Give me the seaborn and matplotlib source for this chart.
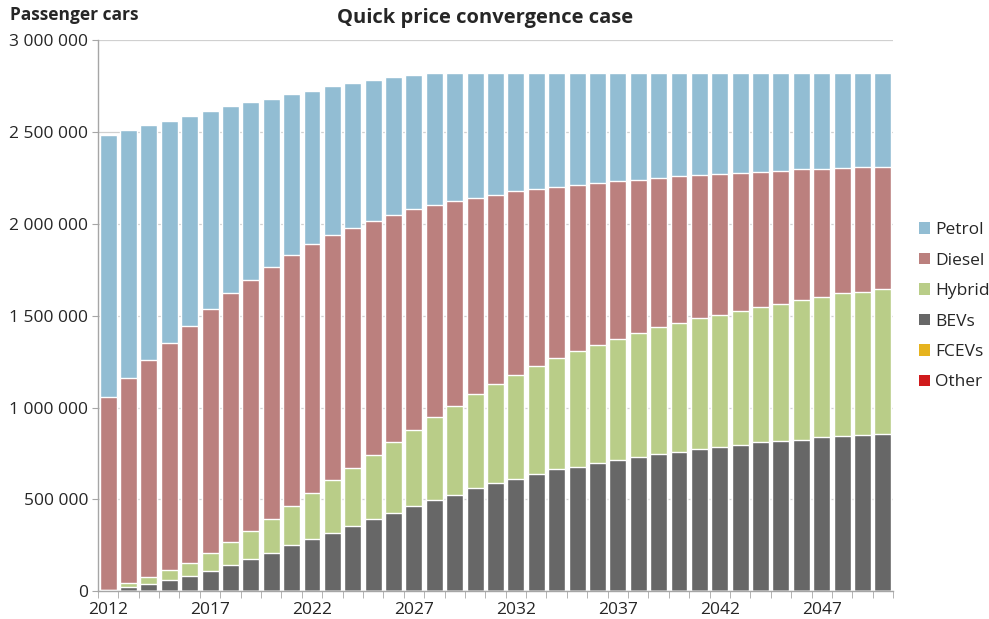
import matplotlib.pyplot as plt
import matplotlib.ticker as ticker
from matplotlib.patches import Patch
import numpy as np
import pandas as pd
import seaborn as sns

# values (passenger cars per year)
years = list(range(2012, 2051))
petrol = [1431000, 1350000, 1279000, 1211000, 1147000, 1080000, 1018000, 968000, 918000, 876000,
          838000, 813000, 788000, 770000, 749000, 731000, 715000, 701000, 681000, 666000,
          646000, 635000, 623000, 614000, 601000, 592000, 583000, 574000, 565000, 559000,
          554000, 547000, 539000, 534000, 526000, 523000, 519000, 516000, 514000]
diesel = [1048000, 1118000, 1180000, 1237000, 1289000, 1327000, 1357000, 1368000, 1372000, 1367000,
          1356000, 1333000, 1307000, 1276000, 1240000, 1202000, 1159000, 1114000, 1072000, 1031000,
          1000000, 964000, 934000, 903000, 880000, 858000, 835000, 814000, 799000, 780000,
          764000, 751000, 737000, 724000, 710000, 699000, 684000, 678000, 662000]
hybrid = [2000, 22000, 38000, 53000, 72000, 98000, 122000, 149000, 184000, 214000,
          249000, 286000, 316000, 346000, 385000, 417000, 451000, 483000, 510000, 539000,
          567000, 588000, 604000, 630000, 644000, 661000, 675000, 690000, 700000, 712000,
          721000, 728000, 738000, 751000, 764000, 765000, 777000, 781000, 791000]
bevs = [5000, 20000, 40000, 60000, 82000, 110000, 143000, 176000, 208000, 249000,
        283000, 318000, 355000, 394000, 426000, 463000, 495000, 526000, 561000, 588000,
        611000, 637000, 663000, 677000, 699000, 713000, 731000, 746000, 760000, 773000,
        785000, 798000, 810000, 815000, 824000, 837000, 844000, 849000, 857000]
fcevs = [0] * len(years)
other = [0] * len(years)

legend_order = ["Petrol", "Diesel", "Hybrid", "BEVs", "FCEVs", "Other"]
colors = {
    "Petrol": "#92bdd3",
    "Diesel": "#bb807e",
    "Hybrid": "#b9cd88",
    "BEVs": "#676767",
    "FCEVs": "#e6b31e",
    "Other": "#d01a1c",
}

sns.set_style("white")
plt.rcParams["font.family"] = ["Open Sans", "DejaVu Sans"]

df = pd.DataFrame({
    "year": [str(y) for y in years],
    "Other": other, "FCEVs": fcevs, "BEVs": bevs,
    "Hybrid": hybrid, "Diesel": diesel, "Petrol": petrol,
})
stack = ["Other", "FCEVs", "BEVs", "Hybrid", "Diesel", "Petrol"]
cum = df[stack].cumsum(axis=1)
cum["year"] = df["year"]

fig, ax = plt.subplots(figsize=(9.89, 6.19))
plt.subplots_adjust(left=0.099, right=0.903, bottom=0.045, top=0.935)

# draw cumulative totals, tallest first, so each layer sits on the previous one
for cat in reversed(stack):
    sns.barplot(data=cum, x="year", y=cat, color=colors[cat], saturation=1,
                width=0.83, errorbar=None, ax=ax)

ax.set_xlabel("")
ax.set_ylabel("")
ax.set_xlim(-0.5, len(years) - 0.5)
ax.set_ylim(0, 3000000)

# y axis
ax.yaxis.set_major_locator(ticker.MultipleLocator(500000))
ax.yaxis.set_major_formatter(ticker.FuncFormatter(lambda v, p: f"{v:,.0f}".replace(",", " ")))
ax.tick_params(axis="y", length=4, color="#a6a6a6", labelsize=12.5, pad=3, left=True)
ax.grid(True, axis="y", color="#d0d0d0", linewidth=0.9)
ax.set_axisbelow(True)

# x axis: labels every 5 years, tick marks between the bars
ax.set_xticks(range(0, len(years), 5))
ax.set_xticklabels([str(years[i]) for i in range(0, len(years), 5)])
ax.set_xticks(np.arange(-0.5, len(years), 1), minor=True)
ax.tick_params(axis="x", which="major", length=0, labelsize=12.5, pad=8)
ax.tick_params(axis="x", which="minor", length=5, color="#a6a6a6", bottom=True)

sns.despine(ax=ax)
for side in ["left", "bottom"]:
    ax.spines[side].set_color("#a6a6a6")
    ax.spines[side].set_linewidth(1)

handles = [Patch(facecolor=colors[c], edgecolor="none", label=c) for c in legend_order]
fig.legend(handles=handles, loc="upper left", bbox_to_anchor=(0.922, 0.652),
           frameon=False, fontsize=12.5, handlelength=0.65, handleheight=0.65,
           handletextpad=0.3, labelspacing=0.83, borderaxespad=0)

fig.text(0.49, 0.971, "Quick price convergence case", ha="center", va="center",
         fontsize=14.5, fontweight="bold")
fig.text(0.01, 0.976, "Passenger cars", ha="left", va="center",
         fontsize=12.5, fontweight="bold")

fig.savefig("out.png", dpi=100)
